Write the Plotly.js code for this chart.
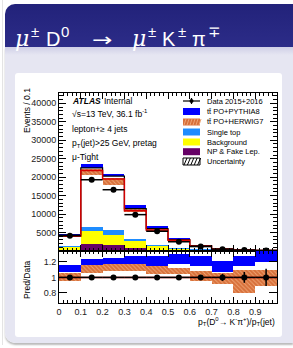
<!DOCTYPE html>
<html><head><meta charset="utf-8">
<script src="https://cdn.plot.ly/plotly-3.0.1.min.js"></script>
<style>
html,body{margin:0;padding:0;background:#fff;width:293px;height:348px;overflow:hidden;font-family:"Liberation Sans",Arial,sans-serif;}
#hdr{position:absolute;left:5px;top:4px;width:288px;height:43px;background:linear-gradient(#22227a,#2c2c88);border-top-left-radius:10px;}
#hdrtxt{position:absolute;left:10px;top:16px;color:#fff;font-size:20px;line-height:24px;white-space:nowrap;}
#hdrtxt span{display:inline-block;}
#hdrtxt .m{font-family:"DejaVu Serif","Liberation Serif",serif;font-style:italic;font-size:22px;}
#hdrtxt .s{font-size:15px;vertical-align:9px;}
#hdrtxt .a{transform:scaleX(1.35);transform-origin:left center;font-family:"DejaVu Sans",sans-serif;font-size:18px;}
#frame{position:absolute;left:5px;top:47px;width:288px;height:296px;background:linear-gradient(#cfcfe6 0px,#e6e6f2 8px,#e6e6f2 100%);border-bottom-left-radius:10px;box-shadow:0 2px 2px #bbb;}
#panel{position:absolute;left:15px;top:73px;width:267px;height:264px;background:#fff;border-radius:3px;}
#strip{position:absolute;left:2px;top:0;width:1px;height:345px;background:#e4e4e4;}
#plot{position:absolute;left:0;top:0;width:293px;height:348px;}
</style></head>
<body>
<div id="strip"></div>
<div id="frame"></div>
<div id="panel"></div>
<div id="hdr"><div id="hdrtxt"><span class="m" style="width:16px">μ</span><span class="s" style="width:15px">±</span><span style="width:15px">D</span><span class="s" style="width:31px">0</span><span class="a" style="width:40px">→</span><span class="m" style="width:16px">μ</span><span class="s" style="width:14px">±</span><span style="width:16px">K</span><span class="s" style="width:14px">±</span><span style="width:16px">π</span><span class="s">∓</span></div></div>
<div id="plot"></div>
<script>
// ---- data ----
const binEdges = [0,0.1,0.2,0.3,0.4,0.5,0.6,0.7,0.8,0.9,1.0];
const binCenters = [0.05,0.15,0.25,0.35,0.45,0.55,0.65,0.75,0.85,0.95];
const npFake     = [400,1950,1750,850,400,150,100,50,30,20];
const background = [800,3400,2700,1800,900,500,250,120,60,40];
const singleTop  = [200,1180,1150,650,450,200,100,50,30,20];
const totalHerwig  = [4000,21800,19500,10900,5700,2900,1300,520,280,150];
const totalPythia  = [4300,22500,20300,11500,6100,3100,1450,580,320,170];
const pythiaBandHi = [4700,23600,20900,12550,6700,3400,1600,650,370,200];
const herwigBandLo = [3700,20600,18000,10500,5400,2700,1200,480,250,130];
const herwigBandHi = [4300,22200,19900,11400,6000,3100,1400,560,300,160];
const dataEvents = [4150,19300,16600,9850,5350,2500,1200,500,250,130];
const ratioPythiaLo = [1.07,1.155,1.17,1.17,1.146,1.17,1.146,1.07,1.146,1.20];
const ratioPythiaHi = [1.16,1.24,1.25,1.275,1.27,1.30,1.275,1.21,1.275,1.36];
const ratioHerwigLo = [0.95,1.06,1.08,1.08,1.04,1.04,0.95,0.91,0.80,0.89];
const ratioHerwigHi = [1.06,1.155,1.17,1.17,1.146,1.125,1.08,1.06,1.10,1.095];
const ratioData    = [1,1,1,1,1,1,1,1,1,1];
const ratioDataErr = [0.01,0.006,0.006,0.01,0.015,0.02,0.03,0.045,0.07,0.11];
const yTickVals = [5000,10000,15000,20000,25000,30000,35000,40000];
const yTickText = ["5000","10000","15000","20000","25000","30000","35000","40000"];
const rTickVals = [0.8,1,1.2];
const rTickText = ["0.8","1","1.2"];
const xTickVals = [0,0.1,0.2,0.3,0.4,0.5,0.6,0.7,0.8,0.9];
const xTickText = ["0","0.1","0.2","0.3","0.4","0.5","0.6","0.7","0.8","0.9"];
const legendLabels = ["Data 2015+2016","tt̄ PO+PYTHIA8","tt̄ PO+HERWIG7","Single top","Background","NP & Fake Lep.","Uncertainty"];

// ---- colours ----
const cPurple="#660066", cYellow="#ffff00", cLight="#1e8cff", cBlue="#0000ff", cOrange="#d8703a", cOrangeLight="#eea474", cRed="#d40000";

const sum=(a,b)=>a.map((v,i)=>v+b[i]);
const diff=(a,b)=>a.map((v,i)=>v-b[i]);
const zeros=binCenters.map(()=>0);
const base1=npFake, base2=sum(npFake,background);
const stepY=a=>a.concat([a[a.length-1]]);

function bar(base,top,color,xa,ya,extra){
  return Object.assign({type:'bar',x:binCenters,base:base,y:diff(top,base),width:0.1,
    marker:{color:color,line:{width:0}},xaxis:xa,yaxis:ya,hoverinfo:'skip',showlegend:false},extra||{});
}
const orangePattern={marker:{color:cOrange,line:{width:0},pattern:{shape:'\\',bgcolor:cOrange,fgcolor:cOrangeLight,fillmode:'replace',size:3,solidity:0.3}}};

const traces=[
  bar(zeros,npFake,cPurple,'x','y'),
  bar(base1,base2,cYellow,'x','y'),
  bar(base2,sum(base2,singleTop),cLight,'x','y'),
  bar(totalPythia,pythiaBandHi,cBlue,'x','y'),
  bar(herwigBandLo,herwigBandHi,cOrange,'x','y',orangePattern),
  {type:'scatter',mode:'lines',x:binEdges,y:stepY(totalPythia),line:{shape:'hv',color:'#000',width:1.2},xaxis:'x',yaxis:'y',showlegend:false,hoverinfo:'skip'},
  {type:'scatter',mode:'lines',x:binEdges,y:stepY(totalHerwig),line:{shape:'hv',color:cRed,width:1.5},xaxis:'x',yaxis:'y',showlegend:false,hoverinfo:'skip'},
  {type:'scatter',mode:'markers',x:binCenters,y:dataEvents,marker:{color:'#000',size:6},
    error_x:{type:'constant',value:0.05,width:0,thickness:1.5,color:'#000'},xaxis:'x',yaxis:'y',showlegend:false,hoverinfo:'skip'},
  // ratio
  bar(ratioPythiaLo,ratioPythiaHi,cBlue,'x2','y2'),
  bar(ratioHerwigLo,ratioHerwigHi,cOrange,'x2','y2',orangePattern),
  {type:'scatter',mode:'lines',x:[binEdges[0],binEdges[10]],y:[1,1],line:{color:cRed,width:1.5},xaxis:'x2',yaxis:'y2',showlegend:false,hoverinfo:'skip'},
  {type:'scatter',mode:'markers',x:binCenters,y:ratioData,marker:{color:'#000',size:6},
    error_x:{type:'constant',value:0.05,width:0,thickness:1.5,color:'#000'},
    error_y:{type:'data',array:ratioDataErr,width:0,thickness:1.5,color:'#000'},xaxis:'x2',yaxis:'y2',showlegend:false,hoverinfo:'skip'}
];

// pixel helpers for paper coords (plot area 59..277 x, 93..303 y)
const PX=x=>(x-59)/218, PY=y=>(303-y)/210;
const font={family:'"Liberation Sans",Arial,sans-serif',color:'#000'};
const ann=(x,y,text,size,opts)=>Object.assign({xref:'paper',yref:'paper',x:PX(x),y:PY(y),text:text,showarrow:false,
  xanchor:'left',yanchor:'middle',font:Object.assign({},font,{size:size})},opts||{});

const annotations=[
  ann(70,101,'<b><i>ATLAS</i></b>',8.5),
  ann(102,101,'Internal',8.5),
  ann(70,113,'√s=13 TeV, 36.1 fb<sup>-1</sup>',8.5),
  ann(70,129,'lepton+≥ 4 jets',8.5),
  ann(70,143,'p<sub>T</sub>(jet)>25 GeV, pretag',8.5),
  ann(70,157,'μ-Tight',8.5),
  ann(27,111,'Events / 0.1',8.5,{xanchor:'center',textangle:-90}),
  ann(27,280,'Pred/Data',8.5,{xanchor:'center',textangle:-90}),
  ann(277,321,'p<sub>T</sub>(D<sup>0</sup>→ K<sup>-</sup>π<sup>+</sup>)/p<sub>T</sub>(jet)',8.5,{xanchor:'right'})
];
const legRows=[101,111.5,122,132,142,151.7,161.5];
legendLabels.forEach((t,i)=>annotations.push(ann(205,legRows[i],t,7.5)));

const shapes=[];
const rect=(x0,y0,x1,y1,fill,line)=>({type:'rect',xref:'paper',yref:'paper',x0:PX(x0),x1:PX(x1),y0:PY(y1),y1:PY(y0),
  fillcolor:fill,line:line||{width:0},layer:'above'});
// legend symbols
shapes.push({type:'line',xref:'paper',yref:'paper',x0:PX(183),x1:PX(200),y0:PY(legRows[0]),y1:PY(legRows[0]),line:{color:'#000',width:1.2}});
shapes.push({type:'line',xref:'paper',yref:'paper',x0:PX(191.5),x1:PX(191.5),y0:PY(legRows[0]-3),y1:PY(legRows[0]+3),line:{color:'#000',width:1.2}});
shapes.push({type:'circle',xref:'paper',yref:'paper',x0:PX(189.5),x1:PX(193.5),y0:PY(legRows[0]+2),y1:PY(legRows[0]-2),fillcolor:'#000',line:{width:0}});
const legCols=[cBlue,cOrange,cLight,cYellow,cPurple];
legCols.forEach((c,i)=>shapes.push(rect(183,legRows[i+1]-3.5,200,legRows[i+1]+3.5,c)));
// hatch lines on HERWIG legend box
for(let k=0;k<6;k++){const xx=184+k*3;shapes.push({type:'line',xref:'paper',yref:'paper',x0:PX(xx),x1:PX(xx+2),y0:PY(legRows[2]+3),y1:PY(legRows[2]-3),line:{color:cOrangeLight,width:1}});}
// uncertainty box
shapes.push(rect(183,legRows[6]-3.5,200,legRows[6]+3.5,'#fff',{color:'#000',width:1}));
for(let k=0;k<5;k++){const xx=184+k*3.4;shapes.push({type:'line',xref:'paper',yref:'paper',x0:PX(xx),x1:PX(xx+3),y0:PY(legRows[6]+3.5),y1:PY(legRows[6]-3.5),line:{color:'#000',width:1}});}

const tickFont=Object.assign({},font,{size:9,color:'#222'});
const common={showline:true,linecolor:'#000',linewidth:1,mirror:'allticks',ticks:'inside',tickcolor:'#000',showgrid:false,zeroline:false,fixedrange:true};
const layout={
  width:293,height:348,margin:{l:59,r:16,t:93,b:45},
  paper_bgcolor:'rgba(0,0,0,0)',plot_bgcolor:'#fff',barmode:'overlay',bargap:0,showlegend:false,
  xaxis:Object.assign({},common,{anchor:'y',range:[0,1],tickvals:xTickVals,showticklabels:false,ticklen:6,
    minor:{dtick:0.02,tick0:0,ticks:'inside',ticklen:3,tickcolor:'#000'}}),
  xaxis2:Object.assign({},common,{anchor:'y2',range:[0,1],tickvals:xTickVals,ticktext:xTickText,ticklen:6,tickfont:tickFont,
    minor:{dtick:0.02,tick0:0,ticks:'inside',ticklen:3,tickcolor:'#000'}}),
  yaxis:Object.assign({},common,{domain:[0.2476,1],range:[0,42800],tickvals:yTickVals,ticktext:yTickText,ticklen:7,tickfont:tickFont,
    minor:{dtick:1000,tick0:0,ticks:'inside',ticklen:4,tickcolor:'#000'}}),
  yaxis2:Object.assign({},common,{domain:[0,0.2476],range:[0.67,1.34],tickvals:rTickVals,ticktext:rTickText,ticklen:8,tickfont:tickFont}),
  annotations:annotations,shapes:shapes
};
Plotly.newPlot('plot',traces,layout,{staticPlot:true,displayModeBar:false});
</script>
</body></html>
